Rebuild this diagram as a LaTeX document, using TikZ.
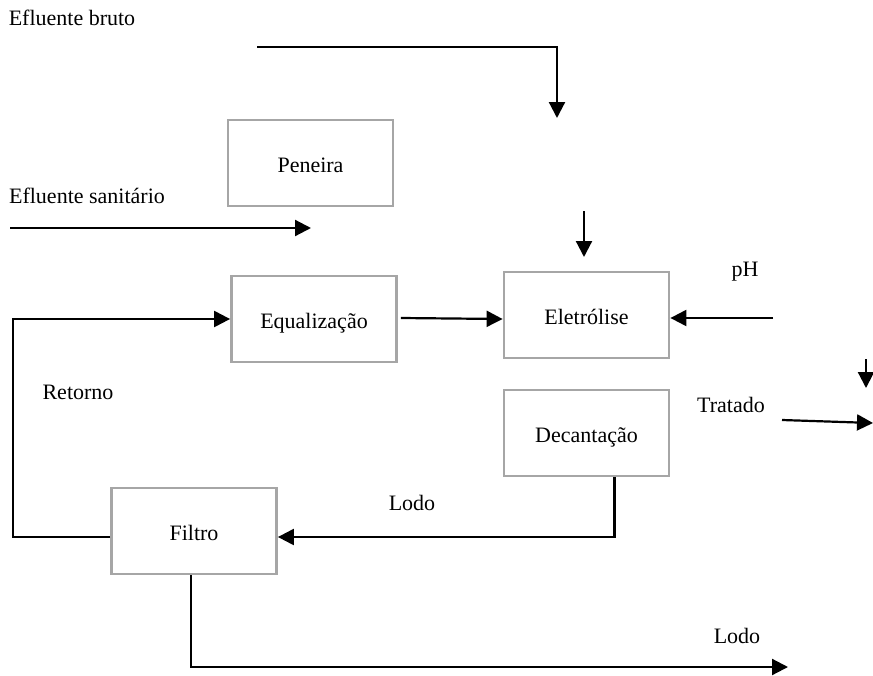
\documentclass[tikz,border=0pt]{standalone}
\usepackage{fontspec}
\setmainfont{Liberation Serif}
\usetikzlibrary{arrows.meta,calc}
\begin{document}
\begin{tikzpicture}[x=1pt,y=-1pt,
  procbox/.style={draw=black!35,line width=2.8pt,minimum width=165pt,minimum height=86pt,inner sep=0pt,text height=20pt,text depth=2pt,font=\fontsize{22}{26}\selectfont},
  lbl/.style={inner sep=0pt,font=\fontsize{22}{26}\selectfont},
  flow/.style={line width=2.2pt,-{Triangle[length=16pt,width=16pt]}}]
\useasboundingbox (0,0) rectangle (873,675);
% boxes
\node[procbox] (pen) at (310.5,163) {Peneira};
\node[procbox] (eq) at (314,319) {Equalização};
\node[procbox] (ele) at (586.5,315) {Eletrólise};
\node[procbox] (dec) at (586.5,433) {Decantação};
\node[procbox] (fil) at (194,531) {Filtro};
% labels
\node[lbl] (lbruto) at (72,18) {Efluente bruto};
\node[lbl] (lsan) at (87,196) {Efluente sanitário};
\node[lbl] (lph) at (745,272) {pH};
\node[lbl] (lret) at (78,392) {Retorno};
\node[lbl] (llodo1) at (412,503) {Lodo};
\node[lbl] (ltrat) at (731,405) {Tratado};
\node[lbl] (llodo2) at (737,636) {Lodo};
% free ends
\coordinate (b0) at (257,47);
\coordinate (b1) at (557,47);
\coordinate (b2) at (557,118);
\coordinate (s0) at (10,228);
\coordinate (s1) at (311,228);
\coordinate (d0) at (584,211);
\coordinate (d1) at (584,257);
\coordinate (p0) at (773,318);
\coordinate (t0) at (866,359);
\coordinate (t1) at (866,388);
\coordinate (r0) at (782,420);
\coordinate (r1) at (873,423);
\coordinate (ret) at (13,537);
\coordinate (l2) at (788,667);
% connectors
\draw[flow] (b0) -- (b1) -- (b2);
\draw[flow] (s0) -- (s1);
\draw[flow] (d0) -- (d1);
\draw[flow] (p0) -- (ele.east |- p0);
\draw[flow] ($(eq.east)+(3,-1)$) -- ($(ele.west)+(0,4)$);
\draw[flow] (fil.west |- ret) -- (ret) -- (ret |- eq.west) -- (eq.west);
\draw[flow] ($(dec.south)+(28,0)$) |- (fil.east |- ret);
\draw[flow] (t0) -- (t1);
\draw[flow] (r0) -- (r1);
\draw[flow] ($(fil.south)+(-3,0)$) |- (l2);
\end{tikzpicture}
\end{document}
